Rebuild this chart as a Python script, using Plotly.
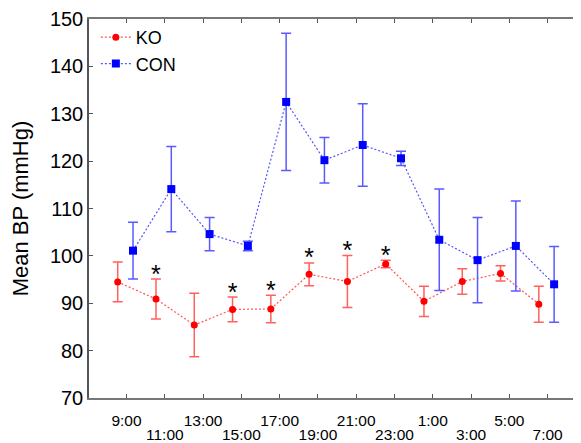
import plotly.graph_objects as go

# ---- data ----
time_labels = ["9:00", "11:00", "13:00", "15:00", "17:00", "19:00",
               "21:00", "23:00", "1:00", "3:00", "5:00", "7:00"]

ko_mean = [94.5, 90.9, 85.4, 88.7, 88.8, 96.1, 94.6, 98.3, 90.4, 94.6, 96.3, 89.8]
ko_err  = [4.2, 4.2, 6.7, 2.6, 2.9, 2.4, 5.5, 0.8, 3.2, 2.7, 1.6, 3.8]

con_mean = [101.1, 114.1, 104.6, 102.1, 132.5, 120.2, 123.4, 120.6, 103.4, 99.1, 102.1, 94.0]
con_err  = [6.0, 9.0, 3.5, 1.0, 14.5, 4.8, 8.7, 1.5, 10.7, 9.0, 9.5, 8.0]

significant = [0, 1, 0, 1, 1, 1, 1, 1, 0, 0, 0, 0]

# ---- positions ----
idx = list(range(len(time_labels)))
x_ko = [i - 0.23 for i in idx]
x_con = [i + 0.17 for i in idx]
upper_text = [t if i % 2 == 0 else "" for i, t in enumerate(time_labels)]
lower_vals = [i for i in idx if i % 2 == 1]
lower_text = [time_labels[i] for i in lower_vals]

sig_x = [x_ko[i] for i in idx if significant[i]]
sig_y = [ko_mean[i] + ko_err[i] + 0.6 for i in idx if significant[i]]

FONT = "Arial, 'Liberation Sans', sans-serif"
XRANGE = [-0.98, 11.82]

fig = go.Figure()

fig.add_trace(go.Scatter(
    x=x_ko, y=ko_mean, name="KO", mode="lines+markers",
    line=dict(color="#ff5555", width=1.2, dash="2px,2px"),
    marker=dict(color="#ff0000", size=7, symbol="circle"),
    error_y=dict(type="data", array=ko_err, visible=True,
                 color="#ff6060", thickness=1.5, width=5),
))

fig.add_trace(go.Scatter(
    x=x_con, y=con_mean, name="CON", mode="lines+markers",
    line=dict(color="#5555ff", width=1.2, dash="2px,2px"),
    marker=dict(color="#0000ff", size=8, symbol="square"),
    error_y=dict(type="data", array=con_err, visible=True,
                 color="#5a5aff", thickness=1.5, width=5),
))

fig.add_trace(go.Scatter(
    x=sig_x, y=sig_y, mode="text", text=["*"] * len(sig_x),
    textposition="middle center", showlegend=False,
    textfont=dict(family=FONT, size=25, color="black"),
    hoverinfo="skip",
))

# the page body adds an 8px offset, so the figure is 8px smaller than the window
fig.update_layout(
    width=573, height=435,
    margin=dict(l=81, r=2, t=11, b=45, autoexpand=False),
    plot_bgcolor="white", paper_bgcolor="white",
    font=dict(family=FONT, color="black"),
    showlegend=True,
    legend=dict(x=0.014, y=1.0, xanchor="left", yanchor="top",
                bgcolor="rgba(0,0,0,0)", font=dict(size=18, family=FONT),
                tracegroupgap=0),
    xaxis=dict(
        range=XRANGE, tickmode="array", tickvals=idx, ticktext=upper_text,
        tickangle=0, automargin=False, ticklabelstandoff=8,
        showgrid=False, zeroline=False,
        showline=True, linecolor="#777777", linewidth=1.5, mirror="ticks",
        ticks="inside", ticklen=4, tickcolor="#555555",
        tickfont=dict(size=15.5, family=FONT),
    ),
    xaxis2=dict(
        range=XRANGE, overlaying="x", side="bottom", anchor="y",
        tickmode="array", tickvals=lower_vals, ticktext=lower_text,
        tickangle=0, automargin=False, ticklabelstandoff=25,
        showgrid=False, zeroline=False, showline=False, ticks="",
        tickfont=dict(size=15.5, family=FONT),
    ),
    yaxis=dict(
        range=[70, 150], tickvals=[70, 80, 90, 100, 110, 120, 130, 140, 150],
        automargin=False,
        showgrid=False, zeroline=False,
        showline=True, linecolor="#555555", linewidth=1.5, mirror=False,
        ticks="inside", ticklen=4, tickcolor="#555555",
        tickfont=dict(size=20, family=FONT),
        title=dict(text="Mean BP (mmHg)", font=dict(size=22, family=FONT), standoff=15),
    ),
)

# invisible trace to activate the second x-axis for the lower tick-label row
fig.add_trace(go.Scatter(x=[XRANGE[0]], y=[70], xaxis="x2", mode="markers",
                         marker=dict(opacity=0), showlegend=False, hoverinfo="skip"))

fig.add_shape(type="line", xref="paper", yref="paper", x0=1, x1=1, y0=0, y1=1,
              line=dict(color="#dddddd", width=1))

fig.write_html("out.html")
